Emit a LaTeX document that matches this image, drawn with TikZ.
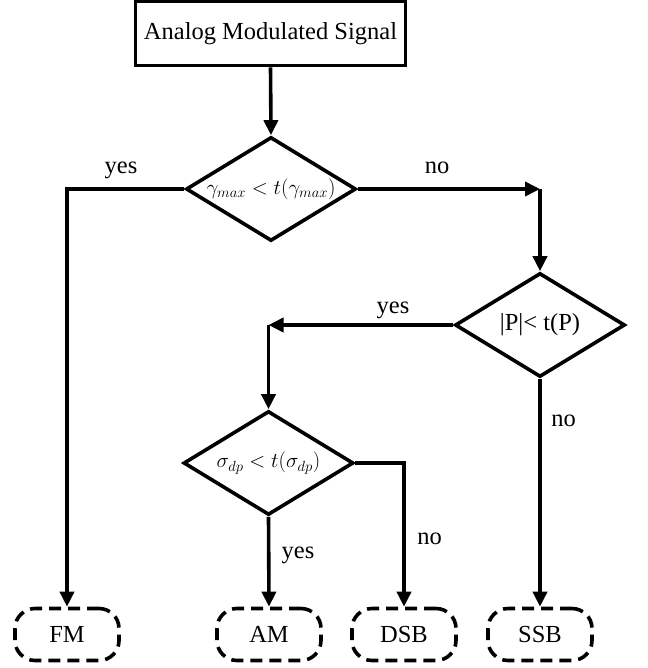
\RequirePackage{fix-cm}
\documentclass[tikz,border=0pt]{standalone}
\usepackage[no-math]{fontspec}
\setmainfont{Liberation Serif}
\usetikzlibrary{shapes.geometric,arrows.meta}
\begin{document}
\begin{tikzpicture}[x=1pt,y=-1pt,
  line width=3.6pt,
  every node/.style={font=\fontsize{24.5}{29}\selectfont},
  mathtext/.style={inner sep=0pt,font=\fontsize{21}{25}\selectfont},
  startbox/.style={draw,rectangle,minimum width=270pt,minimum height=64pt,inner sep=0pt},
  decision/.style={draw,diamond,minimum width=170pt,minimum height=104pt,inner sep=0pt},
  result/.style={draw,rectangle,rounded corners=20pt,dash pattern=on 12pt off 7pt,
                 minimum width=104pt,minimum height=52pt,inner sep=0pt},
  flow/.style={-{Triangle[length=15pt,width=14pt]}},
  lbl/.style={anchor=base,inner sep=0pt}]
\useasboundingbox (0,0) rectangle (647,668);

% start and decisions
\node[startbox] (src) at (270.5,33.5) {Analog Modulated Signal};
\node[decision] (d1) at (271,189) {};
\node[mathtext] (t1) at (d1) {$\gamma_{max} < t(\gamma_{max})$};
\node[decision] (d2) at (540,325) {};
\node[inner sep=0pt] (t2) at (d2) {|P|< t(P)};
\node[decision] (d3) at (268.5,463) {};
\node[mathtext] (t3) at (d3) {$\sigma_{dp} < t(\sigma_{dp})$};

% outcomes
\node[result] (fm)  at (67,634.5)  {FM};
\node[result] (am)  at (269,634.5) {AM};
\node[result] (dsb) at (404,634.5) {DSB};
\node[result] (ssb) at (540,634.5) {SSB};

% corners of the broken connectors
\coordinate (c1) at (d1.east -| d2.north);
\coordinate (c2) at (d2.west -| d3.north);

% connectors
\draw[flow] (src.south) -- (d1.north);
\draw[flow] (d1.west) -| (fm.north);
\draw[flow] (d1.east) -- (c1);
\draw[flow] (c1) -- (d2.north);
\draw[flow] (d2.west) -- (c2);
\draw[flow] (c2) -- (d3.north);
\draw[flow] (d2.south) -- (ssb.north);
\draw[flow] (d3.south) -- (am.north);
\draw[flow] (d3.east) -| (dsb.north);

% branch labels
\node[lbl] (l1) at (121,173.5) {yes};
\node[lbl] (l2) at (437,174) {no};
\node[lbl] (l3) at (393,313.5) {yes};
\node[lbl] (l4) at (563.5,426) {no};
\node[lbl] (l5) at (298,558.5) {yes};
\node[lbl] (l6) at (429.5,544) {no};
\end{tikzpicture}
\end{document}
